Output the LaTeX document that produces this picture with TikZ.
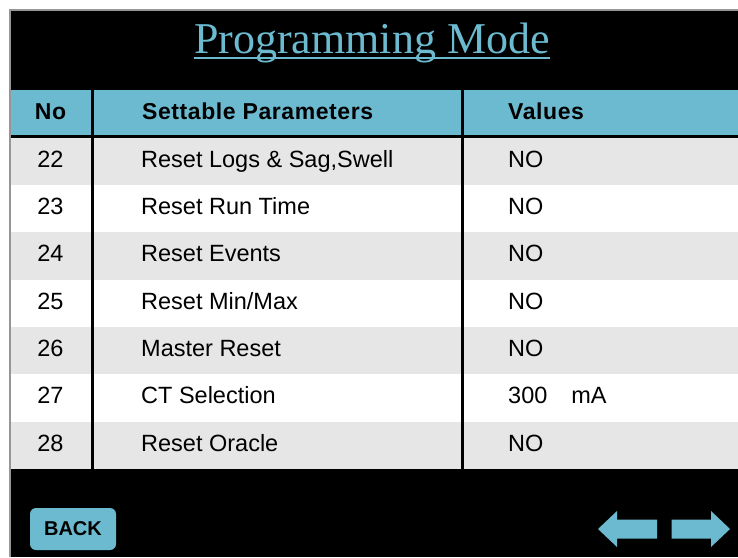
\documentclass[tikz,border=0pt]{standalone}
\usepackage{fontspec}
\setmainfont{Liberation Sans}
\newfontfamily\titlefont{Liberation Serif}
\definecolor{panelblue}{RGB}{108,186,208}
\definecolor{rowgray}{RGB}{230,230,230}
\definecolor{framegray}{RGB}{150,150,150}
\begin{document}
\begin{tikzpicture}[x=1pt,y=-1pt,
  celltext/.style={anchor=base west, inner sep=0pt, font=\fontsize{23.5}{24}\selectfont},
  numtext/.style={anchor=base, inner sep=0pt, font=\fontsize{23.5}{24}\selectfont},
  headtext/.style={anchor=base west, inner sep=0pt,
    font=\fontsize{23}{24}\selectfont\bfseries\addfontfeature{LetterSpace=2.5}},
  colrule/.style={black, line width=3pt},
  btnshape/.style={fill=panelblue, draw=none}]
\useasboundingbox (0,0) rectangle (738,557);
\fill[white] (0,0) rectangle (738,557);
% screen panel
\fill[black] (9,9) rectangle (738,557);
\draw[framegray, line width=1.5pt] (9.75,557) -- (9.75,9.75) -- (738,9.75);

% title
\node[anchor=base, inner sep=0pt, text=panelblue,
      font=\titlefont\fontsize{44}{44}\selectfont] (title) at (372,53) {Programming Mode};
\draw[panelblue, line width=2pt] ([yshift=-5pt]title.base west) -- ([yshift=-5pt]title.base east);

% header band
\fill[panelblue] (10.5,90) rectangle (738,134.5);
\node[headtext, anchor=base] (hno) at (50.5,119) {No};
\node[headtext] (hpar) at (142,119) {Settable Parameters};
\node[headtext] (hval) at (508,119) {Values};

% table rows
\foreach \i in {0,...,6} {
  \pgfmathsetmacro{\top}{137.5+47.35*\i}
  \pgfmathsetmacro{\bot}{\top+47.35}
  \ifodd\i
    \fill[white] (10.5,\top) rectangle (738,\bot);
  \else
    \fill[rowgray] (10.5,\top) rectangle (738,\bot);
  \fi
}
\foreach \i/\n/\p/\v in {0/22/{Reset Logs \& Sag,Swell}/NO,
                        1/23/{Reset Run Time}/NO,
                        2/24/{Reset Events}/NO,
                        3/25/{Reset Min{/}Max}/NO,
                        4/26/{Master Reset}/NO,
                        5/27/{CT Selection}/{300\hspace{24pt}mA},
                        6/28/{Reset Oracle}/NO} {
  \pgfmathsetmacro{\base}{137.5+47.35*\i+29.5}
  \node[numtext] (no\n) at (50.5,\base) {\n};
  \node[celltext] (par\n) at (141,\base) {\p};
  \node[celltext] (val\n) at (508,\base) {\v};
}

% column rules
\draw[colrule] (92,90) -- (92,469);
\draw[colrule] (462,90) -- (462,469);

% back button
\node[btnshape, rounded corners=6pt, minimum width=86pt, minimum height=42pt,
      inner sep=0pt, font=\fontsize{20}{20}\selectfont\bfseries] (back) at (73,529) {BACK};

% navigation arrows
\fill[panelblue] (598,529) -- (617,511) -- (617,519.5) -- (657,519.5)
  -- (657,538.5) -- (617,538.5) -- (617,547) -- cycle;
\fill[panelblue] (730,529) -- (711,511) -- (711,519.5) -- (671.5,519.5)
  -- (671.5,538.5) -- (711,538.5) -- (711,547) -- cycle;
\end{tikzpicture}
\end{document}
